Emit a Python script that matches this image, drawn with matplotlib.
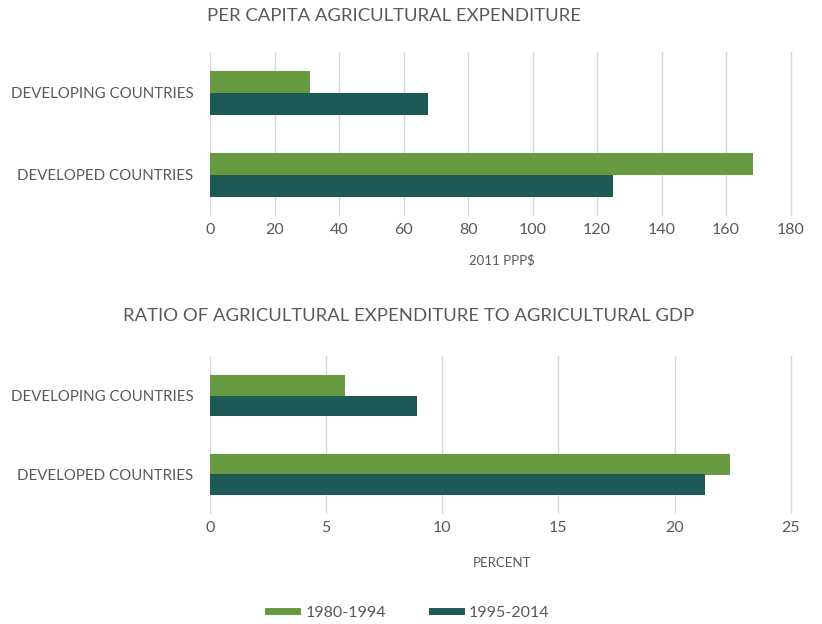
import matplotlib
matplotlib.use("Agg")
import matplotlib.pyplot as plt

plt.rcParams['font.family'] = ['Lato', 'DejaVu Sans']

categories = ["DEVELOPED COUNTRIES", "DEVELOPING COUNTRIES"]
series_names = ["1980-1994", "1995-2014"]
percap_8094 = [168.2, 30.9]
percap_9514 = [124.9, 67.7]
ratio_8094 = [22.4, 5.8]
ratio_9514 = [21.3, 8.9]

c_light = "#679940"
c_dark = "#1d5a55"
txt = "#595959"
grid_c = "#d9d9d9"

W, H = 822, 624
fig = plt.figure(figsize=(8.22, 6.24), dpi=100)
ax1 = fig.add_axes([210 / W, 1 - 216 / H, 583 / W, 164 / H])
ax2 = fig.add_axes([210 / W, 1 - 514 / H, 583 / W, 158 / H])

h = 0.265

def draw(ax, v1, v2, xmax, step, xlabel):
    y = list(range(len(categories)))
    ax.barh([i + h / 2 for i in y], v1, height=h, color=c_light, zorder=3)
    ax.barh([i - h / 2 for i in y], v2, height=h, color=c_dark, zorder=3)
    ax.set_ylim(-0.5, 1.5)
    ax.set_xlim(0, xmax * 1.004)
    ax.set_xticks(list(range(0, xmax + 1, step)))
    ax.set_yticks(y)
    ax.set_yticklabels(categories)
    for s in ax.spines.values():
        s.set_visible(False)
    ax.grid(axis='x', color=grid_c, linewidth=1, zorder=0)
    ax.tick_params(axis='both', length=0, colors=txt)
    ax.tick_params(axis='x', labelsize=11.5, pad=5)
    ax.tick_params(axis='y', labelsize=10.8, pad=12)
    ax.set_xlabel(xlabel, fontsize=9.5, color=txt, labelpad=12)

draw(ax1, percap_8094, percap_9514, 180, 20, "2011 PPP$")
draw(ax2, ratio_8094, ratio_9514, 25, 5, "PERCENT")
ax2.xaxis.labelpad = 16

fig.text(207 / W, 1 - 16 / H, "PER CAPITA AGRICULTURAL EXPENDITURE",
         fontsize=13.3, color=txt, ha='left', va='center')
fig.text(123 / W, 1 - 316 / H,
         "RATIO OF AGRICULTURAL EXPENDITURE TO AGRICULTURAL GDP",
         fontsize=13.3, color=txt, ha='left', va='center')

handles = [plt.Line2D([0], [0], color=c_light, lw=5),
           plt.Line2D([0], [0], color=c_dark, lw=5)]
fig.legend(handles, series_names, loc='center', bbox_to_anchor=(409 / W, 1 - 613 / H),
           ncol=2, frameon=False, fontsize=11.5, labelcolor=txt,
           handlelength=1.8, columnspacing=2.9, handletextpad=0.5)

fig.savefig("out.png", dpi=100)
